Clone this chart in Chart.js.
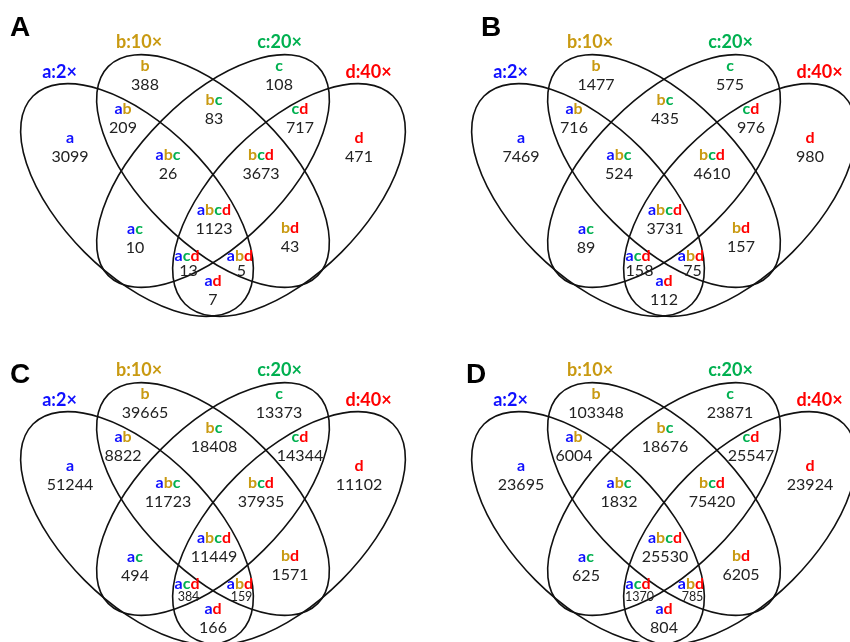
<!DOCTYPE html>
<html>
<head>
<meta charset="utf-8">
<script src="https://cdn.jsdelivr.net/npm/chart.js@4/dist/chart.umd.min.js"></script>
<style>
  html, body { margin: 0; padding: 0; background: #fff; overflow: hidden; }
  #wrap { position: relative; width: 850px; height: 642px; overflow: hidden; }
  #wrap canvas { position: absolute; }
</style>
</head>
<body>
<div id="wrap">
  <canvas id="panelA" width="425" height="321" style="left:0px;top:0px"></canvas>
  <canvas id="panelB" width="425" height="321" style="left:451px;top:0px"></canvas>
  <canvas id="panelC" width="425" height="321" style="left:0px;top:328px"></canvas>
  <canvas id="panelD" width="425" height="321" style="left:451px;top:328px"></canvas>
</div>
<script>
// data
const panelNames = ['A', 'B', 'C', 'D'];
const setLabels = ['a:2×', 'b:10×', 'c:20×', 'd:40×'];
const regions = ['a', 'b', 'c', 'd', 'ab', 'bc', 'cd', 'abc', 'bcd', 'abcd', 'ac', 'bd', 'acd', 'abd', 'ad'];
const countsA = [3099, 388, 108, 471, 209, 83, 717, 26, 3673, 1123, 10, 43, 13, 5, 7];
const countsB = [7469, 1477, 575, 980, 716, 435, 976, 524, 4610, 3731, 89, 157, 158, 75, 112];
const countsC = [51244, 39665, 13373, 11102, 8822, 18408, 14344, 11723, 37935, 11449, 494, 1571, 384, 159, 166];
const countsD = [23695, 103348, 23871, 23924, 6004, 18676, 25547, 1832, 75420, 25530, 625, 6205, 1370, 785, 804];
const allCounts = [countsA, countsB, countsC, countsD];

// styles / layout (panel units, y down)
const setColors = { a: '#1010ff', b: '#c99a12', c: '#00b050', d: '#ff0000' };
const regionPos = [
  [70, 143], [145, 71], [279, 71], [359, 143],
  [123, 114], [214, 105], [300, 114],
  [168, 160], [261, 160], [214, 215],
  [135, 234], [290, 233], [187, 261], [240, 261], [213, 286]
];
const ellipses = [
  { cx: 137, cy: 200, rx: 147, ry: 74, rot: 45 },
  { cx: 213, cy: 171, rx: 148, ry: 72, rot: 45 },
  { cx: 213, cy: 171, rx: 148, ry: 72, rot: -45 },
  { cx: 289, cy: 200, rx: 147, ry: 74, rot: -45 }
];
const setLabelPos = [[59.5, 78], [139, 48], [279.5, 48], [368.5, 78]];
const letterPos = [[10, 36], [30, 36], [10, 55], [15, 55]];
const smallCorner = [false, false, true, true];

function drawWord(ctx, word, cx, base) {
  const chars = [...word];
  const w = chars.map(ch => ctx.measureText(ch).width);
  let xx = cx - w.reduce((s, v) => s + v, 0) / 2;
  chars.forEach((ch, i) => {
    ctx.fillStyle = setColors[ch];
    ctx.fillText(ch, xx, base);
    xx += w[i];
  });
}

const vennPlugin = {
  id: 'venn',
  beforeDatasetsDraw(chart) {
    const { ctx, scales: { x, y } } = chart;
    ctx.save();
    ctx.strokeStyle = '#111';
    ctx.lineWidth = 1.6;
    ellipses.forEach(e => {
      const cx = x.getPixelForValue(e.cx), cy = y.getPixelForValue(e.cy);
      const rx = Math.abs(x.getPixelForValue(e.cx + e.rx) - cx);
      const ry = Math.abs(y.getPixelForValue(e.cy + e.ry) - cy);
      ctx.beginPath();
      ctx.ellipse(cx, cy, rx, ry, e.rot * Math.PI / 180, 0, 2 * Math.PI);
      ctx.stroke();
    });
    ctx.restore();
  },
  afterDatasetsDraw(chart) {
    const { ctx, scales: { x, y } } = chart;
    const idx = chart.options.plugins.venn.panel;
    const meta = chart.getDatasetMeta(0);
    ctx.save();
    ctx.textAlign = 'left';
    ctx.textBaseline = 'alphabetic';
    meta.data.forEach((pt, i) => {
      const raw = chart.data.datasets[0].data[i];
      const corner = raw.region === 'acd' || raw.region === 'abd';
      const small = corner && smallCorner[idx];
      ctx.font = 'bold 16px Lato';
      drawWord(ctx, raw.region, pt.x, pt.y);
      ctx.font = (small ? '12.5px' : '16px') + ' Lato';
      ctx.fillStyle = '#222';
      ctx.textAlign = 'center';
      ctx.fillText(String(raw.n), pt.x + (corner ? 1.5 : 0), pt.y + (small ? 12 : corner ? 15 : 18.5));
      ctx.textAlign = 'left';
    });
    // set labels
    ctx.font = 'bold 18px Lato';
    ctx.textAlign = 'center';
    setLabels.forEach((lab, i) => {
      ctx.fillStyle = setColors[lab[0]];
      ctx.fillText(lab, x.getPixelForValue(setLabelPos[i][0]), y.getPixelForValue(setLabelPos[i][1]));
    });
    // panel letter
    ctx.font = 'bold 28px "Liberation Sans"';
    ctx.textAlign = 'left';
    ctx.fillStyle = '#000';
    ctx.fillText(panelNames[idx], letterPos[idx][0], letterPos[idx][1]);
    ctx.restore();
  }
};

panelNames.forEach((name, idx) => {
  const counts = allCounts[idx];
  new Chart(document.getElementById('panel' + name), {
    type: 'scatter',
    data: {
      datasets: [{
        data: regions.map((r, i) => ({ x: regionPos[i][0], y: regionPos[i][1], region: r, n: counts[i] })),
        pointRadius: 0,
        pointHoverRadius: 0
      }]
    },
    options: {
      responsive: false,
      animation: false,
      layout: { padding: 0 },
      scales: {
        x: { type: 'linear', min: 0, max: 425, display: false },
        y: { type: 'linear', min: 0, max: 321, reverse: true, display: false }
      },
      plugins: {
        legend: { display: false },
        tooltip: { enabled: false },
        venn: { panel: idx }
      }
    },
    plugins: [vennPlugin]
  });
});
</script>
</body>
</html>
